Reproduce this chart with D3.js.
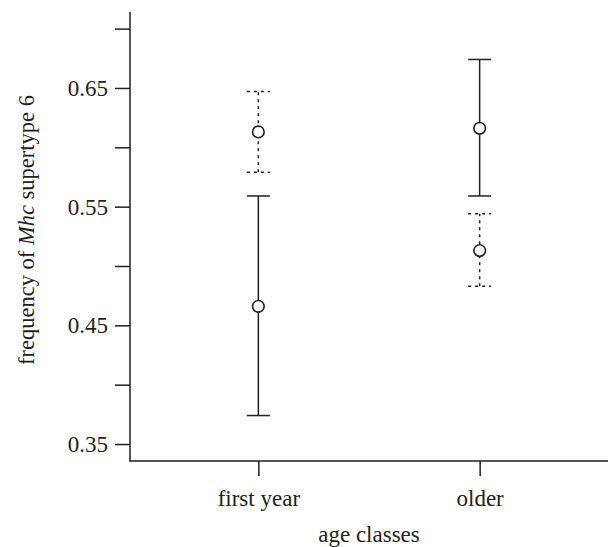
<!DOCTYPE html>
<html>
<head>
<meta charset="utf-8">
<script src="https://cdn.jsdelivr.net/npm/d3@7"></script>
<style>
  body { margin: 0; background: #fff; }
  text { font-family: "Liberation Serif", "DejaVu Serif", serif; fill: #231f20; }
</style>
</head>
<body>
<div id="chart"></div>
<script>
// Data
const ageClasses = ["first year", "older"];
// solid series
const solidMean  = [0.466, 0.616];
const solidLower = [0.374, 0.559];
const solidUpper = [0.559, 0.674];
// dashed series
const dashedMean  = [0.613, 0.513];
const dashedLower = [0.579, 0.483];
const dashedUpper = [0.647, 0.544];
// y ticks
const yTicks = [0.35, 0.40, 0.45, 0.50, 0.55, 0.60, 0.65, 0.70];
const yLabelled = [0.35, 0.45, 0.55, 0.65];

const width = 611, height = 547;
const ink = "#231f20";

const svg = d3.select("#chart")
    .append("svg")
    .attr("width", width)
    .attr("height", height);

// Scales
const x = d3.scalePoint()
    .domain(ageClasses)
    .range([130, 608])
    .padding(0.58);

const y = d3.scaleLinear()
    .domain([0.3357, 0.714])
    .range([461, 12]);

// Y axis
const yAxis = svg.append("g")
    .attr("transform", "translate(130,0)")
    .call(d3.axisLeft(y)
        .tickValues(yTicks)
        .tickSize(15)
        .tickSizeOuter(0)
        .tickPadding(7)
        .tickFormat(d => yLabelled.some(v => Math.abs(v - d) < 1e-9) ? d3.format(".2f")(d) : ""));

// X axis
const xAxis = svg.append("g")
    .attr("transform", "translate(0,461)")
    .call(d3.axisBottom(x)
        .tickSize(15)
        .tickSizeOuter(0)
        .tickPadding(14));

// custom axis lines covering full extent
yAxis.select(".domain").remove();
xAxis.select(".domain").remove();
svg.append("line")
    .attr("x1", 130).attr("x2", 130)
    .attr("y1", 12).attr("y2", 461.5)
    .attr("stroke", ink).attr("stroke-width", 1.5);
svg.append("line")
    .attr("x1", 129.5).attr("x2", 608)
    .attr("y1", 461).attr("y2", 461)
    .attr("stroke", ink).attr("stroke-width", 1.5);

[yAxis, xAxis].forEach(a => {
    a.selectAll(".tick line").attr("stroke", ink).attr("stroke-width", 1.5);
    a.selectAll(".tick text")
        .attr("font-family", "Liberation Serif, serif")
        .style("font-size", "23px")
        .attr("fill", ink);
});

// Error bars
function drawSeries(mean, lower, upper, dash) {
    const g = svg.append("g");
    const rows = ageClasses.map((c, i) => ({c, m: mean[i], lo: lower[i], hi: upper[i]}));
    const cap = 11.5;

    g.selectAll("line.stem")
        .data(rows)
        .join("line")
        .attr("class", "stem")
        .attr("x1", d => x(d.c)).attr("x2", d => x(d.c))
        .attr("y1", d => y(d.lo)).attr("y2", d => y(d.hi))
        .attr("stroke", ink).attr("stroke-width", 1.5)
        .attr("stroke-dasharray", dash);

    g.selectAll("line.capHi")
        .data(rows)
        .join("line")
        .attr("class", "capHi")
        .attr("x1", d => x(d.c) - cap).attr("x2", d => x(d.c) + cap)
        .attr("y1", d => y(d.hi)).attr("y2", d => y(d.hi))
        .attr("stroke", ink).attr("stroke-width", 1.5)
        .attr("stroke-dasharray", dash);

    g.selectAll("line.capLo")
        .data(rows)
        .join("line")
        .attr("class", "capLo")
        .attr("x1", d => x(d.c) - cap).attr("x2", d => x(d.c) + cap)
        .attr("y1", d => y(d.lo)).attr("y2", d => y(d.lo))
        .attr("stroke", ink).attr("stroke-width", 1.5)
        .attr("stroke-dasharray", dash);

    g.selectAll("circle")
        .data(rows)
        .join("circle")
        .attr("cx", d => x(d.c))
        .attr("cy", d => y(d.m))
        .attr("r", 5.8)
        .attr("fill", "#fff")
        .attr("stroke", ink)
        .attr("stroke-width", 1.6);
}

drawSeries(solidMean, solidLower, solidUpper, null);
drawSeries(dashedMean, dashedLower, dashedUpper, "3,4");

// Axis titles
svg.append("text")
    .attr("x", 369)
    .attr("y", 542)
    .attr("text-anchor", "middle")
    .style("font-size", "23px")
    .text("age classes");

const yTitle = svg.append("text")
    .attr("transform", "translate(34,230) rotate(-90)")
    .attr("text-anchor", "middle")
    .style("font-size", "22.5px");
yTitle.append("tspan").text("frequency of ");
yTitle.append("tspan").attr("font-style", "italic").text("Mhc");
yTitle.append("tspan").text(" supertype 6");
</script>
</body>
</html>
